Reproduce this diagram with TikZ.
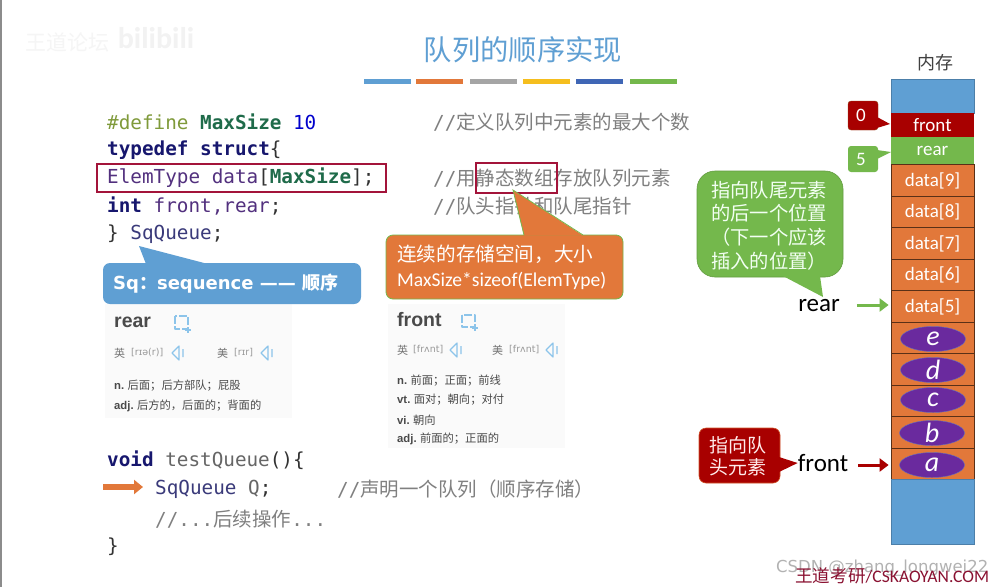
\documentclass[tikz,border=0pt]{standalone}
\usepackage{fontspec}
\setmainfont{Carlito}
\setmonofont{DejaVu Sans Mono}
\newfontfamily\cjk{Noto Sans CJK SC}
\newfontfamily\ipa{DejaVu Sans}
\newfontfamily\dictfont{Liberation Sans}
\usepackage{xcolor}
\usetikzlibrary{positioning, calc, arrows.meta, shapes.geometric}

\definecolor{slideblue}{HTML}{5F9FD3}
\definecolor{slideorange}{HTML}{E2783A}
\definecolor{slidegray}{HTML}{A5A5A5}
\definecolor{slideyellow}{HTML}{F5BE1E}
\definecolor{slidenavy}{HTML}{3F66B5}
\definecolor{slidegreen}{HTML}{74B84C}
\definecolor{slidered}{HTML}{A80000}
\definecolor{boxred}{HTML}{A3143A}
\definecolor{slidepurple}{HTML}{6A2A9E}
\definecolor{kwnavy}{HTML}{17176E}
\definecolor{idpurple}{HTML}{52307E}
\definecolor{typenavy}{HTML}{3A3A7A}
\definecolor{macrogreen}{HTML}{1F6B4A}
\definecolor{defolive}{HTML}{7F9A3A}
\definecolor{cmtgray}{HTML}{808080}
\definecolor{dictgray}{HTML}{4A4A4A}
\definecolor{dictblue}{HTML}{8CC4EA}

\newcommand{\codefs}{\fontsize{19.3}{22}\selectfont\ttfamily}
\newcommand{\kw}[1]{\textcolor{kwnavy}{\bfseries #1}}
\newcommand{\macro}[1]{\textcolor{macrogreen}{\bfseries #1}}
\newcommand{\ident}[1]{\textcolor{idpurple}{#1}}
\newcommand{\han}[1]{{\fontsize{19.5}{22}\selectfont\cjk #1}}
\newcommand{\cmt}[1]{\textcolor{cmtgray}{//\han{#1}}}

\tikzset{
    codeline/.style={anchor=west, inner sep=0pt, yshift=-1pt, font=\codefs, text=black!80},
    titlebar/.style={minimum width=47pt, minimum height=5pt, inner sep=0pt},
    hilite/.style={draw=boxred, line width=2.6pt, inner sep=0pt},
    cell/.style={minimum width=83pt, inner sep=0pt, text=white, font=\fontsize{19}{22}\selectfont},
    elem/.style={ellipse, fill=slidepurple, draw=slideblue!60!slidepurple, minimum width=65pt, minimum height=25pt, inner sep=0pt},
    elemname/.style={text=white, inner sep=0pt, font=\fontsize{28}{30}\selectfont\itshape},
    bubble/.style={rounded corners=7pt, inner sep=0pt, align=left, font=\cjk},
    pointer/.style={-{Triangle[length=9pt,width=13pt]}, line width=3pt},
    dicthead/.style={anchor=west, inner sep=0pt, text=dictgray, font=\fontsize{19.5}{24}\selectfont\bfseries\dictfont},
    dictline/.style={anchor=west, inner sep=0pt, text=dictgray, font=\fontsize{11.3}{13}\selectfont\cjk},
    dictsound/.style={anchor=west, inner sep=0pt, text=black!40, font=\fontsize{9.5}{11}\selectfont\ipa},
    dictflag/.style={anchor=west, inner sep=0pt, text=black!55, font=\fontsize{11}{12}\selectfont\cjk},
    dicticon/.style={dictblue, line width=1.2pt, line join=round},
}

\begin{document}
\begin{tikzpicture}[x=1pt,y=-1pt]
    \useasboundingbox (0,0) rectangle (992,587);
    \fill[white] (0,0) rectangle (992,587);
    \fill[black!45] (0,0) rectangle (1.5,587);

    % Watermark
    \node[text=black!4, font=\fontsize{21}{24}\selectfont\cjk, inner sep=0pt] (wmforum) at (67,42) {王道论坛};
    \node[text=black!5, font=\fontsize{30}{32}\selectfont\bfseries, inner sep=0pt] (wmbili) at (156,38) {bilibili};

    % Title
    \node[text=slideblue, font=\fontsize{28.3}{32}\selectfont\cjk, inner sep=0pt] (title) at (523,50) {队列的顺序实现};
    \foreach \x/\c in {387.5/slideblue, 439/slideorange, 493/slidegray, 546.5/slideyellow, 599/slidenavy, 653/slidegreen}
        \node[titlebar, fill=\c] (bar\c) at (\x,81.5) {};

    % Dictionary panels
    \node[fill=black!2, minimum width=187pt, minimum height=114pt, inner sep=0pt] (rearpanel) at (198.5,361) {};
    \node[fill=black!2, minimum width=177pt, minimum height=144pt, inner sep=0pt] (frontpanel) at (476.5,376) {};

    \node[dicthead] (reardict) at (114,322) {rear};
    \draw[dicticon, dash pattern=on 8pt off 2pt] (175,316) rectangle (188,329);
    \draw[dicticon] (185,330) -- (191,330) (188,327) -- (188,333);
    \node[dictflag] (rearuk) at (114,353) {英};
    \node[dictsound] (rearuks) at (131,353) {[rɪə(r)]};
    \draw[dicticon] (172,353) -- (179,346) -- (179,360) -- cycle (183,349) -- (183,357);
    \node[dictflag] (rearus) at (217,353) {美};
    \node[dictsound] (rearuss) at (234,353) {[rɪr]};
    \draw[dicticon] (261,353) -- (268,346) -- (268,360) -- cycle (272,349) -- (272,357);
    \node[dictline] (rearn) at (114,386) {{\bfseries\dictfont n.} 后面；后方部队；屁股};
    \node[dictline] (rearadj) at (114,406) {{\bfseries\dictfont adj.} 后方的，后面的；背面的};

    \node[dicthead] (frontdict) at (397,320) {front};
    \draw[dicticon, dash pattern=on 8pt off 2pt] (462,315) rectangle (475,327);
    \draw[dicticon] (472,328) -- (478,328) (475,325) -- (475,331);
    \node[dictflag] (frontuk) at (397,350) {英};
    \node[dictsound] (frontuks) at (413,350) {[frʌnt]};
    \draw[dicticon] (450,350) -- (457,343) -- (457,357) -- cycle (461,346) -- (461,354);
    \node[dictflag] (frontus) at (492,350) {美};
    \node[dictsound] (frontuss) at (509,350) {[frʌnt]};
    \draw[dicticon] (546,350) -- (553,343) -- (553,357) -- cycle (557,346) -- (557,354);
    \node[dictline] (frontn) at (397,381) {{\bfseries\dictfont n.} 前面；正面；前线};
    \node[dictline] (frontvt) at (397,400) {{\bfseries\dictfont vt.} 面对；朝向；对付};
    \node[dictline] (frontvi) at (397,420) {{\bfseries\dictfont vi.} 朝向};
    \node[dictline] (frontadj) at (397,439) {{\bfseries\dictfont adj.} 前面的；正面的};

    % Struct code
    \node[codeline] (define) at (107,121) {\textcolor{defolive}{\#define} \macro{MaxSize} \textcolor{blue!80!black}{10}};
    \node[codeline] (typedef) at (107,149) {\kw{typedef} \kw{struct}\{};
    \node[codeline] (field) at (107,177) {\ident{ElemType data}[\macro{MaxSize}];};
    \node[codeline] (index) at (107,205) {\kw{int} \ident{front,rear};};
    \node[codeline] (close) at (107,233) {\} \textcolor{typenavy}{SqQueue};};
    \node[codeline] (cmtdefine) at (433,121) {\cmt{定义队列中元素的最大个数}};
    \node[codeline] (cmtfield) at (433,177) {\cmt{用静态数组存放队列元素}};
    \node[codeline] (cmtindex) at (433,205) {\cmt{队头指针和队尾指针}};

    % Highlight boxes
    \node[hilite, minimum width=289pt, minimum height=28pt] (fieldbox) at (241.5,178) {};
    \node[hilite, minimum width=81pt, minimum height=30pt] (staticbox) at (516.5,178) {};

    % Callouts over the code
    \coordinate (sqtip) at (139,246);
    \node[bubble, fill=slideblue, minimum width=258pt, minimum height=41pt, text=white] (sqnote) at (232,283.5) {};
    \fill[slideblue] (sqtip) -- (146,264) -- (208,264) -- cycle;
    \node[anchor=west, inner sep=0pt, text=white, font=\fontsize{18}{20}\selectfont\bfseries\ipa] (sqtext) at (113,284) {Sq{\cjk ：}sequence —— {\cjk 顺序}};

    \coordinate (ordertip) at (513,190);
    \node[bubble, fill=slideorange, draw=slidegreen, line width=0.8pt, minimum width=237pt, minimum height=64pt] (ordernote) at (504.5,267) {};
    \fill[slideorange] (ordertip) -- (524,235.5) -- (583,235.5) -- cycle;
    \draw[slidegreen, line width=0.8pt] (524,235) -- (ordertip) -- (583,235);
    \node[anchor=west, inner sep=0pt, text=white, align=left, font=\fontsize{19.6}{25}\selectfont] (ordertext) at (397,267) {{\cjk 连续的存储空间，大小}\\MaxSize*sizeof(ElemType)};

    % Test code
    \node[codeline] (voidline) at (107,459) {\kw{void} \textcolor{black!60}{testQueue}()\{};
    \node[codeline] (declline) at (155,488) {\textcolor{typenavy}{SqQueue} \textcolor{black!60}{Q};};
    \node[codeline] (cmtdecl) at (337,488) {\cmt{声明一个队列（顺序存储）}};
    \node[codeline] (restline) at (155,518) {\textcolor{cmtgray}{//...\han{后续操作}...}};
    \node[codeline] (endline) at (107,546) {\}};
    \coordinate (stepstart) at (103,487);
    \coordinate (stepend) at (143,487);
    \draw[-{Triangle[length=9pt,width=14pt]}, slideorange, line width=6pt] (stepstart) -- (stepend);

    % Memory column
    \node[text=black!75, font=\fontsize{18}{20}\selectfont\cjk, inner sep=0pt] (memtitle) at (935,63) {内存};
    \node[cell, fill=slideblue, minimum height=34pt, draw=slideblue!80!black, line width=0.5pt] (memtop) at (932.5,96) {};
    \node[cell, fill=slidered, minimum height=24pt] (cellfront) at (932.5,125) {front};
    \node[cell, fill=slidegreen, minimum height=28pt] (cellrear) at (932.5,151) {rear};
    \foreach \i/\y in {9/180.5, 8/212, 7/243.5, 6/275, 5/306.5}
        \node[cell, fill=slideorange, draw=black!60!slideorange, line width=0.8pt, minimum height=31.5pt] (cell\i) at (932.5,\y) {data[\i]};
    \foreach \i/\y/\n/\ex/\ey in {4/338/e/933/339, 3/369.5/d/933/370, 2/401/c/933/400, 1/432.5/b/932/433, 0/464/a/932/465} {
        \node[cell, fill=slideorange, draw=black!60!slideorange, line width=0.8pt, minimum height=31.5pt] (cell\i) at (932.5,\y) {};
        \node[elem] (elem\i) at (\ex,\ey) {};
        \node[elemname] (name\i) at (\ex,\ey) {\n};
    }
    \node[cell, fill=slideblue, minimum height=65pt, draw=slideblue!80!black, line width=0.5pt] (membottom) at (932.5,512) {};

    % Value callouts
    \coordinate (fronttip) at (890,124);
    \node[bubble, rounded corners=3pt, fill=slidered, draw=slidegreen!40!slidered, minimum width=30pt, minimum height=29pt] (frontval) at (863,115.5) {};
    \fill[slidered] (fronttip) -- (877,117) -- (877,128) -- cycle;
    \node[text=white, inner sep=0pt, font=\fontsize{19}{22}\selectfont] (frontnum) at (861,115) {0};
    \coordinate (reartip) at (891,152);
    \node[bubble, rounded corners=3pt, fill=slidegreen, minimum width=30pt, minimum height=26pt] (rearval) at (863,159) {};
    \fill[slidegreen] (reartip) -- (877,150) -- (877,159) -- cycle;
    \node[text=white, inner sep=0pt, font=\fontsize{19}{22}\selectfont] (rearnum) at (861,159) {5};

    % Notes beside the pointers
    \node[bubble, rounded corners=18pt, fill=slidegreen, draw=slidegreen!85!black, line width=0.6pt, minimum width=146pt, minimum height=106pt] (nextnote) at (770,224) {};
    \fill[slidegreen] (783,276) -- (823,297) -- (820,276) -- cycle;
    \node[inner sep=0pt, text=green!5!white, align=left, font=\fontsize{19.3}{23.7}\selectfont\cjk] (nexttext) at (769,225.5) {指向队尾元素\\的后一个位置\\（下一个应该\\插入的位置）};

    % Pointers
    \node[text=black, inner sep=0pt, font=\fontsize{25}{28}\selectfont] (rearlabel) at (819,306) {rear};
    \node[text=black, inner sep=0pt, font=\fontsize{25}{28}\selectfont] (frontlabel) at (823,463) {front};
    \draw[pointer, slidegreen, shorten <=17pt, shorten >=2pt] (rearlabel.east |- 0,305) -- (cell5.west |- 0,305);
    \draw[pointer, slidered, shorten <=10pt, shorten >=2pt] (frontlabel.east |- elem0.west) -- (cell0.west |- elem0.west);

    \node[bubble, fill=slidered, draw=slideorange!70!slidered, line width=0.6pt, minimum width=81pt, minimum height=55pt] (headnote) at (739.5,455.5) {};
    \fill[slidered] (779,457) -- (frontlabel.west) -- (779,472) -- cycle;
    \node[inner sep=0pt, text=red!8!white, align=left, font=\fontsize{19}{22}\selectfont\cjk] (headtext) at (738,456) {指向队\\头元素};

    % Corner marks
    \node[anchor=west, inner sep=0pt, text=black!30, font=\fontsize{16.5}{20}\selectfont\ipa] (csdnmark) at (776,568) {CSDN @zhang\_longwei22};
    \node[anchor=west, inner sep=0pt, text=boxred!85!black, font=\fontsize{17.6}{20}\selectfont] (kaoyanmark) at (795,576) {{\cjk 王道考研}/CSKAOYAN.COM};
\end{tikzpicture}
\end{document}
